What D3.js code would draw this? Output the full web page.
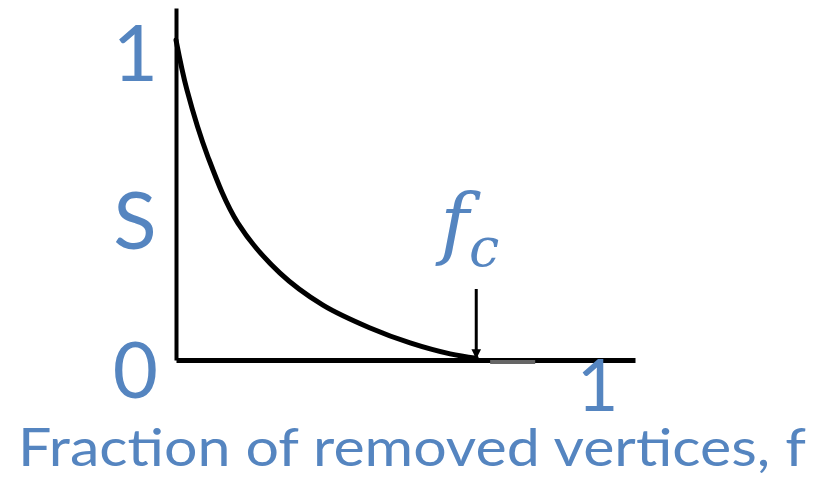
<!DOCTYPE html>
<html>
<head>
<meta charset="utf-8">
<script src="https://cdn.jsdelivr.net/npm/d3@7"></script>
<style>
  body { margin: 0; background: #fff; }
  svg text { font-family: Lato, "Open Sans", sans-serif; fill: #5585c0; }
</style>
</head>
<body>
<div id="chart"></div>
<script>
const w = 815, h = 480;

// curve S(f)
const fValues = [0, 0.026, 0.076, 0.147, 0.247, 0.349, 0.461, 0.556, 0.651, 0.713];
const sValues = [1.05, 0.886, 0.666, 0.449, 0.285, 0.180, 0.105, 0.056, 0.020, 0.006];
const fc = 0.713;
const arrowTop = 0.233;
const tailF = [0.746, 0.853];
const yTicks = [0, 1];
const xTicks = [1];
const yLabel = 'S';
const xLabel = 'Fraction of removed vertices, f';

const svg = d3.select('#chart').append('svg')
  .attr('width', w).attr('height', h)
  .attr('viewBox', `0 0 ${w} ${h}`);

const xScale = d3.scaleLinear().domain([0, 1.09]).range([176, 635]);
const yScale = d3.scaleLinear().domain([0, 1.155]).range([360, 8]);

const defs = svg.append('defs');
defs.append('marker')
  .attr('id', 'arrow')
  .attr('viewBox', '0 0 10 10')
  .attr('refX', 9).attr('refY', 5)
  .attr('markerWidth', 3.2).attr('markerHeight', 4.2)
  .attr('orient', 'auto')
  .append('path')
  .attr('d', 'M0,0L10,5L0,10Z')
  .attr('fill', '#000');

// y axis
const yAxis = d3.axisLeft(yScale).tickValues(yTicks).tickSize(0).tickSizeOuter(0).tickPadding(18)
  .tickFormat(d3.format('d'));
const gy = svg.append('g').attr('transform', `translate(${xScale(0)},0)`).call(yAxis);
gy.select('.domain').attr('stroke', '#000').attr('stroke-width', 4);
gy.selectAll('.tick text')
  .attr('font-size', 78).attr('fill', '#5585c0')
  .style('font-family', 'Lato, sans-serif')
  .attr('dy', d => d === 0 ? '0.48em' : '0.32em');

// x axis
const xAxis = d3.axisBottom(xScale).tickValues(xTicks).tickSize(0).tickSizeOuter(0).tickPadding(0)
  .tickFormat(d3.format('d'));
const gx = svg.append('g').attr('transform', `translate(0,${yScale(0)})`).call(xAxis);
gx.select('.domain').attr('stroke', '#000').attr('stroke-width', 5);
gx.selectAll('.tick text')
  .attr('font-size', 72).attr('fill', '#5585c0')
  .style('font-family', 'Lato, sans-serif');

// curve
const pts = fValues.map((f, i) => [f, sValues[i]]);
const line = d3.line()
  .x(d => xScale(d[0]))
  .y(d => yScale(d[1]))
  .curve(d3.curveCatmullRom.alpha(0.5));
svg.append('path')
  .datum(pts)
  .attr('d', line)
  .attr('fill', 'none')
  .attr('stroke', '#000')
  .attr('stroke-width', 5)
  .attr('stroke-linecap', 'round');

// grey tail past f_c
svg.append('line')
  .attr('x1', xScale(tailF[0])).attr('x2', xScale(tailF[1]))
  .attr('y1', yScale(0) + 2).attr('y2', yScale(0) + 2)
  .attr('stroke', '#666').attr('stroke-width', 4);

// arrow to f_c
svg.append('line')
  .attr('x1', xScale(fc)).attr('x2', xScale(fc))
  .attr('y1', yScale(arrowTop)).attr('y2', yScale(0) - 2)
  .attr('stroke', '#000').attr('stroke-width', 3)
  .attr('marker-end', 'url(#arrow)');

// f_c label
const fcText = svg.append('text')
  .attr('x', xScale(fc) - 36).attr('y', 250)
  .style('font-family', '"DejaVu Serif", serif')
  .style('font-style', 'italic')
  .attr('font-size', 78);
fcText.append('tspan').text('f');
fcText.append('tspan').attr('font-size', 54).attr('dy', 16).attr('dx', 0).text('c');

// axis titles
svg.append('text')
  .attr('x', 135).attr('y', yScale(0.46))
  .attr('text-anchor', 'middle').attr('dy', '0.36em')
  .attr('font-size', 80)
  .text(yLabel);

svg.append('text')
  .attr('x', 18).attr('y', 466)
  .attr('font-size', 53)
  .attr('textLength', 788).attr('lengthAdjust', 'spacingAndGlyphs')
  .text(xLabel);
</script>
</body>
</html>
